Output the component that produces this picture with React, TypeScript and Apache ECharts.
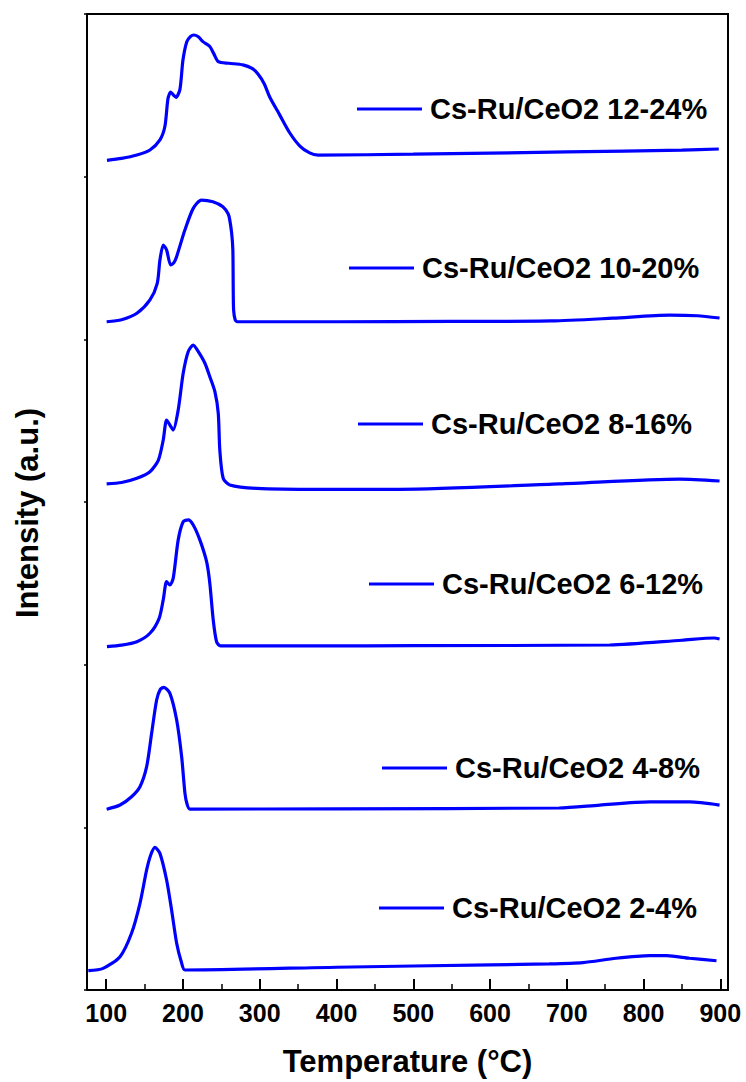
import React, { useEffect, useRef } from "react";
import * as echarts from "echarts";

// Sample names (bottom to top)
const sampleNames = [
  "Cs-Ru/CeO2 2-4%",
  "Cs-Ru/CeO2 4-8%",
  "Cs-Ru/CeO2 6-12%",
  "Cs-Ru/CeO2 8-16%",
  "Cs-Ru/CeO2 10-20%",
  "Cs-Ru/CeO2 12-24%",
];

// [temperature °C, intensity within own panel (0..1)]
const curve2_4 = [
  [76.7, 0.119], [96, 0.133], [118, 0.205], [133, 0.349], [144, 0.533], [152.7, 0.738],
  [158, 0.83], [163.5, 0.877], [170, 0.84], [178.7, 0.676], [185.2, 0.492], [191.8, 0.287],
  [198, 0.17], [202.6, 0.123], [400, 0.14], [600, 0.155], [677, 0.16], [721, 0.168],
  [764, 0.195], [808, 0.211], [830, 0.211], [860, 0.195], [895, 0.18],
];
const curve4_8 = [
  [100.6, 0.111], [118, 0.137], [133, 0.188], [144, 0.25], [152.7, 0.373], [159.2, 0.578],
  [165.7, 0.783], [170.5, 0.848], [175.2, 0.861], [183, 0.824], [191.8, 0.66], [198.3, 0.434],
  [202.6, 0.209], [205.5, 0.14], [209, 0.112], [400, 0.114], [690, 0.119], [743, 0.137],
  [808, 0.156], [860, 0.156], [899, 0.137],
];
const curve6_12 = [
  [101, 0.111], [120, 0.12], [140, 0.141], [157, 0.193], [169, 0.285], [174.3, 0.398],
  [178.7, 0.51], [183, 0.49], [187.3, 0.531], [193.8, 0.767], [200.3, 0.879], [206.8, 0.89],
  [213.4, 0.859], [222, 0.767], [230.8, 0.633], [235, 0.5], [239.4, 0.275], [243.8, 0.141],
  [249, 0.115], [378, 0.115], [500, 0.117], [756, 0.121], [850, 0.15], [892, 0.164], [899, 0.158],
];
const curve8_16 = [
  [100.6, 0.111], [120, 0.12], [140, 0.146], [157, 0.186], [168, 0.258], [174.3, 0.381],
  [178.7, 0.504], [183, 0.473], [187.3, 0.443], [193.8, 0.566], [200.3, 0.791], [206.8, 0.924],
  [213.4, 0.965], [220, 0.924], [228.6, 0.853], [235, 0.77], [241.6, 0.678], [246, 0.545],
  [248, 0.32], [252.4, 0.146], [261, 0.105], [296, 0.084], [378, 0.078], [482, 0.078],
  [690, 0.111], [847, 0.141], [899, 0.129],
];
const curve10_20 = [
  [100.6, 0.108], [120, 0.12], [140, 0.16], [157, 0.242], [166.5, 0.344], [170, 0.487],
  [174.3, 0.58], [178.7, 0.549], [184, 0.457], [188, 0.47], [191.7, 0.508], [202.5, 0.672],
  [213.4, 0.805], [224, 0.856], [239, 0.846], [252, 0.815], [259, 0.77], [261, 0.733],
  [263.5, 0.65], [265, 0.55], [265.5, 0.3], [266, 0.18], [268, 0.12], [271, 0.108],
  [400, 0.108], [550, 0.11], [680, 0.113], [760, 0.13], [834, 0.149], [870, 0.145], [899, 0.131],
];
const curve12_24 = [
  [101, 0.1], [120, 0.112], [140, 0.133], [157, 0.164], [170, 0.226], [176.5, 0.31],
  [180.5, 0.48], [184, 0.52], [188, 0.5], [191, 0.488], [196, 0.535], [200, 0.717],
  [205, 0.83], [210, 0.862], [214, 0.871], [220, 0.86], [226, 0.83], [235, 0.8],
  [240, 0.758], [246, 0.707], [260, 0.697], [278, 0.687], [290, 0.665], [298, 0.63],
  [306, 0.57], [313, 0.49], [326, 0.38], [339, 0.27], [352, 0.19], [365, 0.146],
  [376, 0.133], [500, 0.138], [700, 0.152], [850, 0.163], [898, 0.17],
];

const curves = [curve2_4, curve4_8, curve6_12, curve8_16, curve10_20, curve12_24];

// Axis ticks
const xMajorTicks = [100, 200, 300, 400, 500, 600, 700, 800, 900];
const xMinorTicks = [150, 250, 350, 450, 550, 650, 750, 850];

// Legend placement per panel (bottom to top): [left px of line, center y px]
const legendPos = [
  [379, 908],
  [382, 768],
  [369, 584],
  [358, 424],
  [349, 268],
  [357, 109],
];

const FONT = "'Liberation Sans', Arial, Helvetica, sans-serif";
const BLUE = "#0000ff";

export default function App() {
  const ref = useRef<HTMLDivElement>(null);

  useEffect(() => {
    if (!ref.current) return;
    const chart = echarts.init(ref.current, null, { renderer: "svg" });

    const series = curves.map((c, k) => ({
      name: sampleNames[k],
      type: "line",
      data: c.map(([t, v]) => [t, v + k]),
      showSymbol: false,
      symbol: "none",
      smooth: 0.25,
      lineStyle: { color: BLUE, width: 3.2 },
      itemStyle: { color: BLUE },
    }));

    const legends = sampleNames.map((n, k) => ({
      data: [n],
      left: legendPos[k][0],
      top: legendPos[k][1] - 15,
      orient: "horizontal",
      padding: 0,
      icon: "rect",
      itemWidth: 65,
      itemHeight: 3,
      selectedMode: false,
      textStyle: {
        fontFamily: FONT,
        fontWeight: "bold",
        fontSize: 29,
        color: "#000",
        lineHeight: 30,
        padding: [0, 0, 0, 3],
      },
    }));

    chart.setOption({
      animation: false,
      backgroundColor: "#fff",
      grid: {
        left: 87,
        right: 18,
        top: 14,
        bottom: 92,
        show: true,
        borderColor: "#000",
        borderWidth: 2,
      },
      legend: legends,
      xAxis: [
        {
          type: "value",
          min: 75,
          max: 910,
          position: "bottom",
          name: "Temperature (°C)",
          nameLocation: "middle",
          nameGap: 56,
          nameTextStyle: {
            fontFamily: FONT,
            fontWeight: "bold",
            fontSize: 31,
            color: "#000",
          },
          axisLine: { show: true, lineStyle: { color: "#000", width: 2 } },
          axisTick: {
            show: true,
            inside: true,
            length: 11,
            customValues: xMajorTicks,
            lineStyle: { color: "#000", width: 2 },
          },
          axisLabel: {
            show: true,
            customValues: xMajorTicks,
            margin: 10,
            fontFamily: FONT,
            fontWeight: "bold",
            fontSize: 25,
            color: "#000",
          },
          splitLine: { show: false },
        },
        {
          type: "value",
          min: 75,
          max: 910,
          position: "bottom",
          axisLine: { show: false },
          axisTick: {
            show: true,
            inside: true,
            length: 6,
            customValues: xMinorTicks,
            lineStyle: { color: "#000", width: 1.5 },
          },
          axisLabel: { show: false },
          splitLine: { show: false },
        },
      ],
      yAxis: {
        type: "value",
        min: 0,
        max: 6,
        interval: 1,
        name: "Intensity (a.u.)",
        nameLocation: "middle",
        nameGap: 44,
        nameTextStyle: {
          fontFamily: FONT,
          fontWeight: "bold",
          fontSize: 31,
          color: "#000",
          padding: [0, 22, 0, 0],
        },
        axisLine: { show: true, lineStyle: { color: "#000", width: 2 } },
        axisTick: { show: true, inside: false, length: 3, lineStyle: { color: "#000", width: 1.5 } },
        axisLabel: { show: false },
        splitLine: { show: false },
      },
      series,
    });

    return () => chart.dispose();
  }, []);

  return (
    <div
      ref={ref}
      style={{ position: "fixed", left: 0, top: 0, width: 746, height: 1082 }}
    />
  );
}
